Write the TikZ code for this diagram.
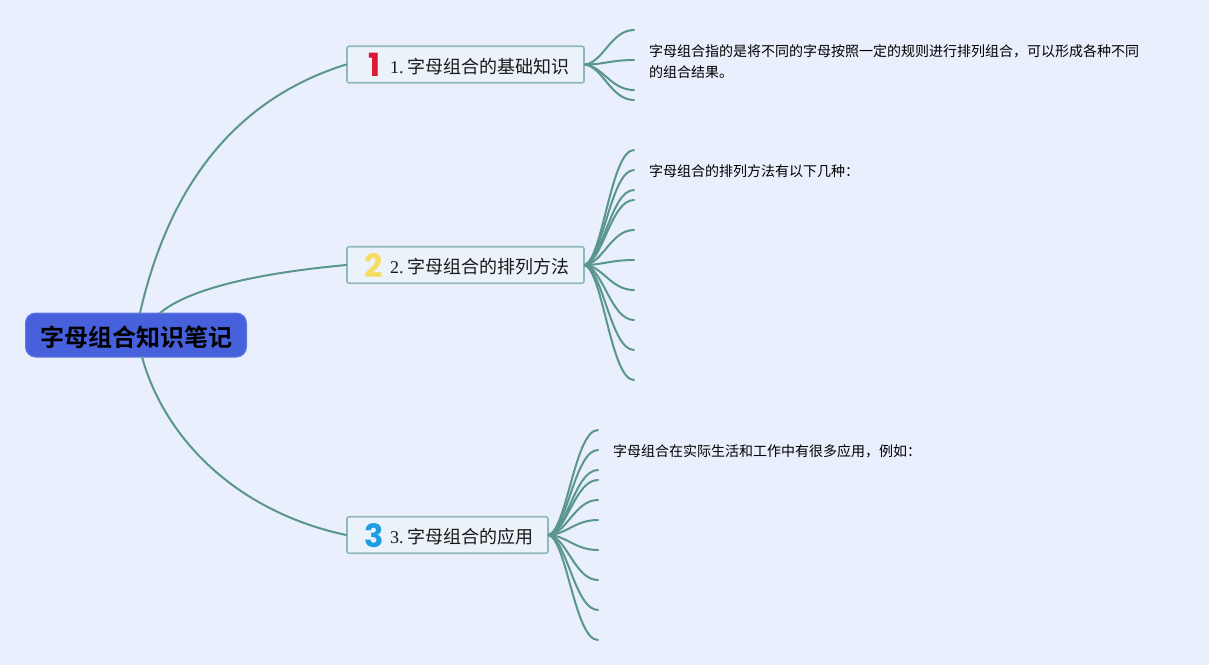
\documentclass[tikz,border=0pt]{standalone}
\usepackage{fontspec}
\setmainfont{Liberation Serif}
\newfontfamily\cjk[BoldFont={Noto Sans CJK SC Bold}]{Noto Sans CJK SC}
\newfontfamily\iconf{Poppins}
\definecolor{bgc}{HTML}{E9EFFC}
\definecolor{linkc}{HTML}{5B968E}
\definecolor{boxe}{HTML}{91B9BC}
\definecolor{boxf}{HTML}{EBF2F9}
\definecolor{rootc}{HTML}{4761DD}
\definecolor{ione}{HTML}{DC1A32}
\definecolor{itwo}{HTML}{F6DC5E}
\definecolor{ithree}{HTML}{1E9DE2}
\tikzset{
  rootbox/.style={draw=rootc!85!white,fill=rootc,rounded corners=10pt,line width=1pt,inner sep=0pt,minimum width=221pt,minimum height=44pt,text=black},
  rootlabel/.style={inner sep=0pt,font=\cjk\bfseries\fontsize{24}{24}\selectfont,text=black},
  secbox/.style={draw=boxe,fill=boxf,rounded corners=2pt,line width=1.6pt,inner sep=0pt,minimum height=36.5pt},
  seclabel/.style={anchor=west,inner sep=0pt,font=\fontsize{18}{18}\selectfont,text=black!90},
  bodytext/.style={anchor=north west,inner sep=0pt,align=left,font=\cjk\fontsize{14}{21}\selectfont,text=black},
  iconnum/.style={inner sep=0pt,font=\iconf\bfseries\fontsize{32}{32}\selectfont},
  link/.style={draw=linkc,line width=2pt,line cap=round},
  twig/.style={draw=linkc,line width=2pt,line cap=round}
}
\begin{document}
\begin{tikzpicture}[x=1pt,y=-1pt]
\path[use as bounding box,fill=bgc] (0,0) rectangle (1209,665);
\node[rootbox] (root) at (136,335) {};
\node[rootlabel] (rl) at (136,337) {字母组合知识笔记};
\node[secbox,minimum width=237pt] (s1) at (465.5,64.5) {};
\node[secbox,minimum width=237pt] (s2) at (465.5,265) {};
\node[secbox,minimum width=201pt] (s3) at (447.5,535) {};
\node[iconnum,text=ione] (i1) at (375,65) {1};
\node[iconnum,text=itwo] (i2) at (374,266) {2};
\node[iconnum,text=ithree] (i3) at (374,536) {3};
\node[seclabel] (l1) at (390,66.5) {1.\hspace{4pt}{\cjk 字母组合的基础知识}};
\node[seclabel] (l2) at (390,266.5) {2.\hspace{4pt}{\cjk 字母组合的排列方法}};
\node[seclabel] (l3) at (390,536.5) {3.\hspace{4pt}{\cjk 字母组合的应用}};
\node[bodytext] (t1) at (649,44) {字母组合指的是将不同的字母按照一定的规则进行排列组合，可以形成各种不同\\的组合结果。};
\node[bodytext] (t2) at (649,164) {字母组合的排列方法有以下几种：};
\node[bodytext] (t3) at (613,444) {字母组合在实际生活和工作中有很多应用，例如：};
\coordinate (ra) at (140,313);
\coordinate (rb) at (160,313);
\coordinate (rc) at (142,357);
\draw[link] (ra) .. controls (168,190) and (232,100) .. (s1.west);
\draw[link] (rb) .. controls (190,288) and (260,273) .. (s2.west);
\draw[link] (rc) .. controls (165,440) and (238,512) .. (s3.west);
\foreach \y [count=\i] in {30,60,90,100} {
  \coordinate (a\i) at (634,\y);
  \pgfmathsetmacro{\cy}{65+0.06*(\y-65)}
  \draw[twig] (s1.east) .. controls (603,\cy) and (611,\y) .. (a\i);
}
\foreach \y [count=\i] in {150,170,190,200,230,260,290,320,350,380} {
  \coordinate (b\i) at (634,\y);
  \pgfmathsetmacro{\cy}{265+0.06*(\y-265)}
  \draw[twig] (s2.east) .. controls (603,\cy) and (611,\y) .. (b\i);
}
\foreach \y [count=\i] in {430,450,470,480,500,520,550,580,610,640} {
  \coordinate (c\i) at (598,\y);
  \pgfmathsetmacro{\cy}{535+0.06*(\y-535)}
  \draw[twig] (s3.east) .. controls (567,\cy) and (575,\y) .. (c\i);
}
\end{tikzpicture}
\end{document}
